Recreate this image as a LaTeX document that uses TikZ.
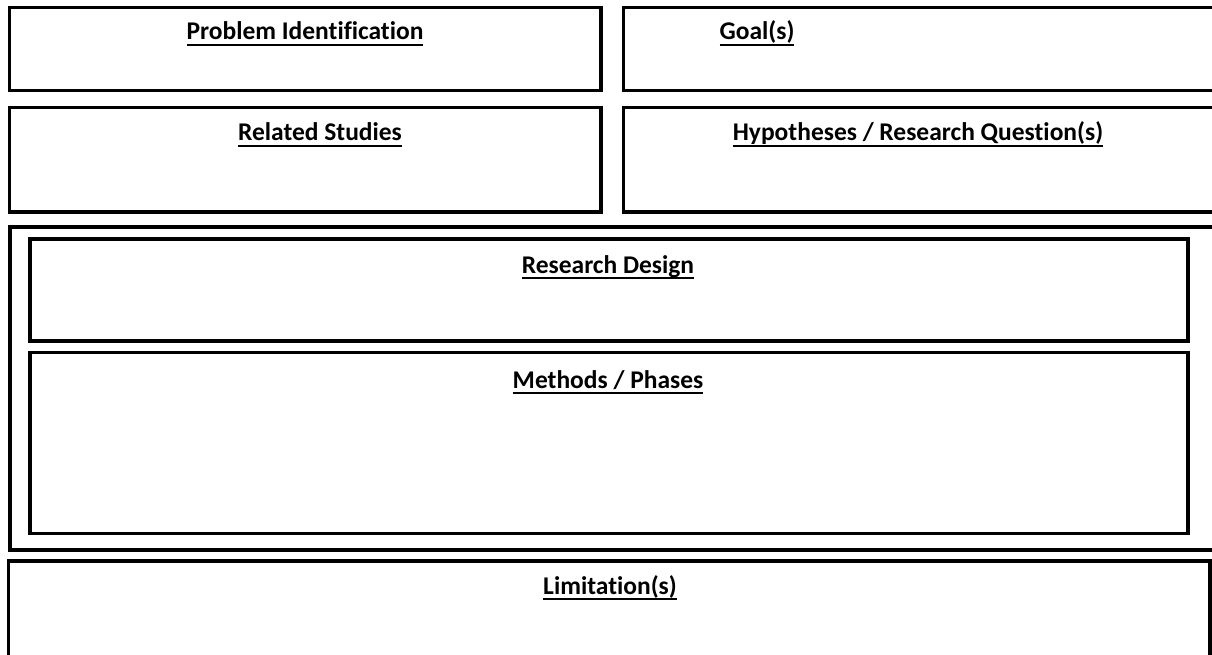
\documentclass[tikz,border=0pt]{standalone}
\usepackage{fontspec}
\setmainfont{Carlito}[RawFeature={-liga}]
% bold heading with a fixed-depth underline that runs through descenders
\newcommand\headline[1]{\setbox0=\hbox{\bfseries #1}\rlap{\copy0}\vrule height -3.8pt depth 6pt width \wd0\relax}
\tikzset{
  panel/.style={draw=black, line width=3.2pt, fill=none},
  heading/.style={anchor=base, inner sep=0pt, font=\fontsize{25.5}{30}\selectfont},
}
\begin{document}
\begin{tikzpicture}[x=1pt, y=-1pt]
  \fill[white] (0,0) rectangle (1212,655);
  \clip (0,0) rectangle (1212,655);
  % top row
  \draw[panel] (9.5,7.5) rectangle (601,90.5);
  \draw[panel] (623.5,7.5) rectangle (1240,90.5);
  % second row
  \draw[panel] (9.5,107.5) rectangle (601,212);
  \draw[panel] (623.5,107.5) rectangle (1240,212);
  % design block with its two inner panels
  \draw[panel] (10,227) rectangle (1240,550);
  \draw[panel] (30,239) rectangle (1188,341);
  \draw[panel] (30,352.5) rectangle (1188,533.5);
  % bottom panel
  \draw[panel] (8.5,561) rectangle (1210,700);
  % headings
  \node[heading] (prob) at (305,40) {\headline{Problem Identification}};
  \node[heading] (goal) at (757,40) {\headline{Goal(s)}};
  \node[heading] (rel) at (320,141) {\headline{Related Studies}};
  \node[heading] (hyp) at (918,141) {\headline{Hypotheses / Research Question(s)}};
  \node[heading] (des) at (608,273) {\headline{Research Design}};
  \node[heading] (meth) at (608,388) {\headline{Methods / Phases}};
  \node[heading] (lim) at (610,594) {\headline{Limitation(s)}};
\end{tikzpicture}
\end{document}
